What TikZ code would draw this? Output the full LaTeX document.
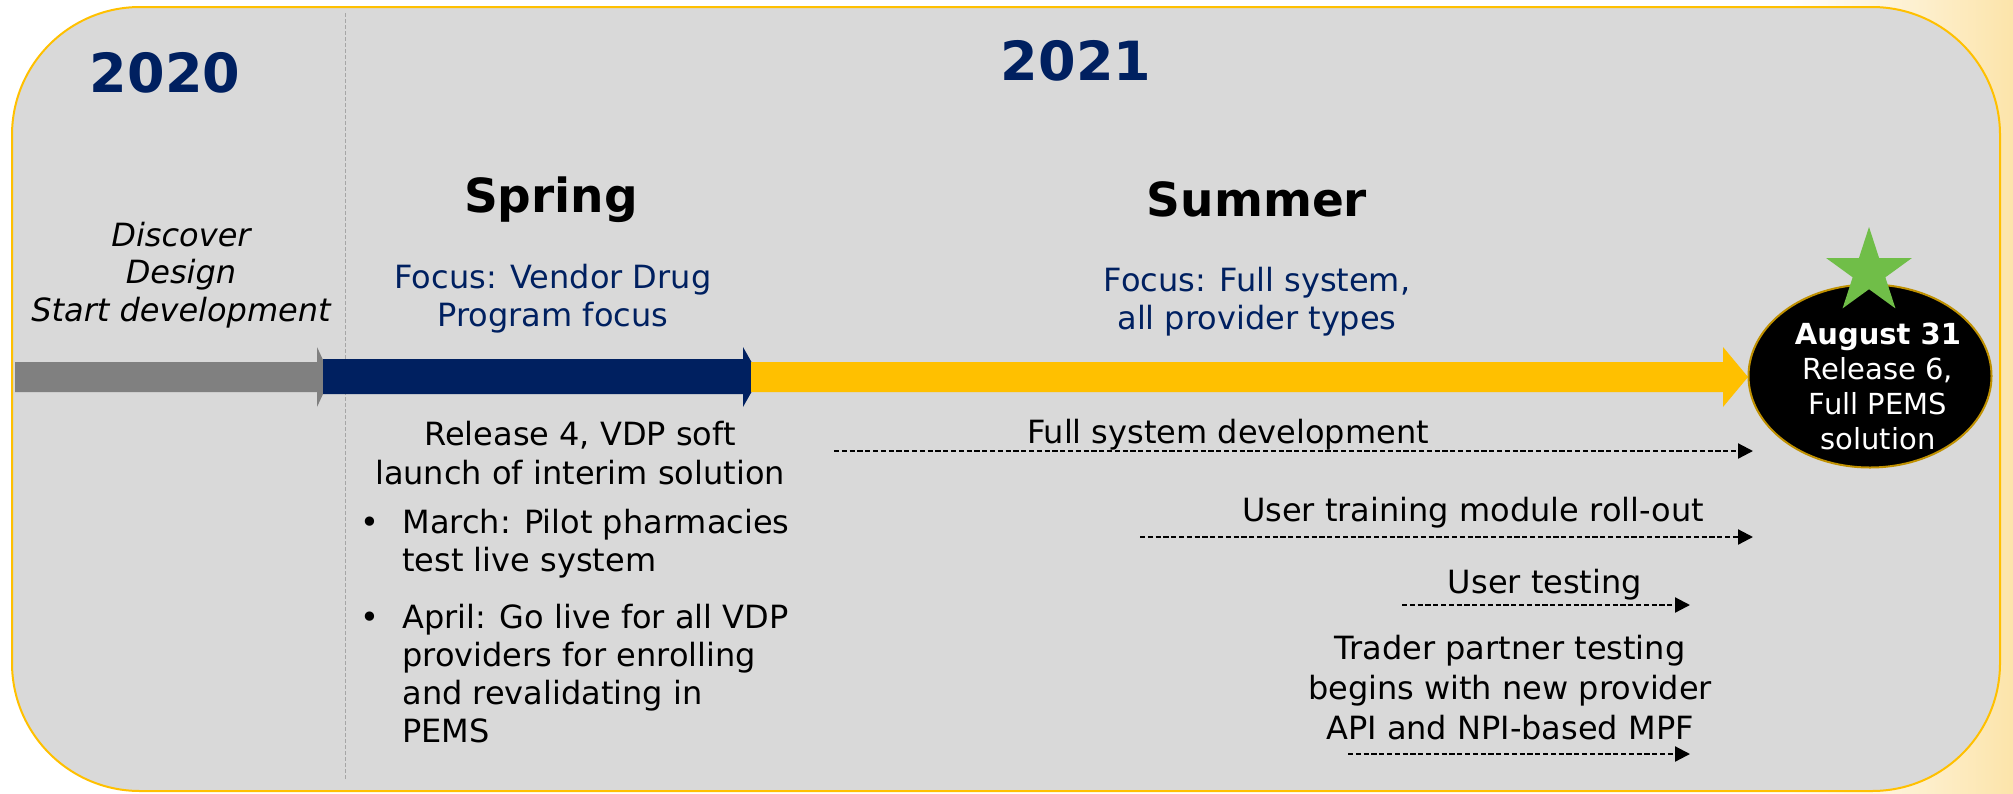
\documentclass[tikz,border=0pt]{standalone}
\usepackage{fontspec}
\setmainfont{DejaVu Sans}
\usepackage{xcolor}
\usepackage{tikz}
\usetikzlibrary{shapes.geometric,arrows.meta}

\tikzset{
    yearlabel/.style={font=\fontsize{27}{32}\selectfont\bfseries, text={rgb, 255:red, 0; green, 32; blue, 96 }, inner sep=0pt},
    seasonlabel/.style={font=\fontsize{23.5}{28}\selectfont\bfseries, inner sep=0pt},
    bodytext/.style={font=\fontsize{16}{19}\selectfont, align=center, inner sep=0pt},
    focustext/.style={bodytext, text={rgb, 255:red, 0; green, 32; blue, 96 }},
    milestone/.style={ellipse, fill=black, draw={rgb, 255:red, 191; green, 144; blue, 0 }, line width=1pt, minimum width=121.5pt, minimum height=91.5pt, inner sep=0pt},
    mstext/.style={font=\fontsize{14.5}{17.5}\selectfont, text=white, align=center, inner sep=0pt},
    task/.style={line width=1.1pt, dash pattern=on 2.6pt off 1.3pt, -{Triangle[length=7.5pt,width=7.5pt]}}
}

\begin{document}
\begin{tikzpicture}[x=0.5pt,y=0.5pt,yscale=-1,xscale=1]
    \useasboundingbox (0,0) rectangle (2013,793);
    % slide background and panel
    \shade [left color=white, right color={rgb, 255:red, 252; green, 228; blue, 170 }] (1790,0) rectangle (2013,793);
    \draw [fill={rgb, 255:red, 217; green, 217; blue, 217 }, draw={rgb, 255:red, 255; green, 192; blue, 0 }, line width=1pt, rounded corners=64pt] (12,7) rectangle (2000,791);
    \draw [draw={rgb, 255:red, 166; green, 166; blue, 166 }, line width=0.5pt, dash pattern=on 2pt off 1pt] (345,13) -- (345,780);
    % phase bars
    \fill [fill={rgb, 255:red, 128; green, 128; blue, 128 }] (15,362) -- (317,362) -- (317,347) -- (331,377) -- (317,407) -- (317,392) -- (15,392) -- cycle;
    \fill [fill={rgb, 255:red, 0; green, 32; blue, 96 }] (323,359) -- (743,359) -- (743,347) -- (760,377) -- (743,407) -- (743,394) -- (323,394) -- cycle;
    \fill [fill={rgb, 255:red, 255; green, 192; blue, 0 }] (751,362) -- (1723,362) -- (1723,347) -- (1748,377) -- (1723,407) -- (1723,392) -- (751,392) -- cycle;

    \node [yearlabel, anchor=base] (y2020) at (165,92) {2020};
    \node [yearlabel, anchor=base] (y2021) at (1076,80) {2021};
    \node [seasonlabel, anchor=base] (spring) at (551,212) {Spring};
    \node [seasonlabel, anchor=base] (summer) at (1257,216) {Summer};
    \node [bodytext, font=\fontsize{16}{18.75}\selectfont\itshape] (early) at (181,275) {Discover\\Design\\Start development};
    \node [focustext] (springfocus) at (553,299) {Focus: Vendor Drug\\Program focus};
    \node [focustext] (summerfocus) at (1257,302) {Focus: Full system,\\all provider types};

    \node [bodytext, font=\fontsize{16}{19.5}\selectfont] (rel4) at (580,453) {Release 4, VDP soft\\launch of interim solution};
    \node [bodytext, anchor=base] (bul1) at (370,533) {•};
    \node [bodytext, align=left, anchor=north west] (march) at (402,509) {March: Pilot pharmacies\\test live system};
    \node [bodytext, anchor=base] (bul2) at (370,628) {•};
    \node [bodytext, align=left, anchor=north west] (april) at (402,604) {April: Go live for all VDP\\providers for enrolling\\and revalidating in\\PEMS};

    % go-live milestone
    \node [milestone] (ms) at (1870,376) {};
    \node [star, star points=5, star point ratio=2.618, minimum size=45pt, inner sep=0pt, fill={rgb, 255:red, 112; green, 190; blue, 72 }] (goal) at (1869,272) {};
    \node [mstext] (mslabel) at (1878,386) {\textbf{August 31}\\Release 6,\\Full PEMS\\solution};

    % summer work streams
    \node [bodytext, anchor=base] (fsd) at (1228,443) {Full system development};
    \node [bodytext, anchor=base] (utm) at (1473,521) {User training module roll-out};
    \node [bodytext, anchor=base] (ut) at (1545,593) {User testing};
    \node [bodytext, font=\fontsize{16}{20}\selectfont] (tpt) at (1510,688) {Trader partner testing\\begins with new provider\\API and NPI-based MPF};
    \coordinate (fsd-s) at (834,451);
    \coordinate (fsd-e) at (1753,451);
    \coordinate (utm-s) at (1140,537);
    \coordinate (utm-e) at (1753,537);
    \coordinate (ut-s) at (1402,605);
    \coordinate (ut-e) at (1690,605);
    \coordinate (tpt-s) at (1348,754);
    \coordinate (tpt-e) at (1690,754);
    \draw [task] (fsd-s) -- (fsd-e);
    \draw [task] (utm-s) -- (utm-e);
    \draw [task] (ut-s) -- (ut-e);
    \draw [task] (tpt-s) -- (tpt-e);
\end{tikzpicture}
\end{document}
